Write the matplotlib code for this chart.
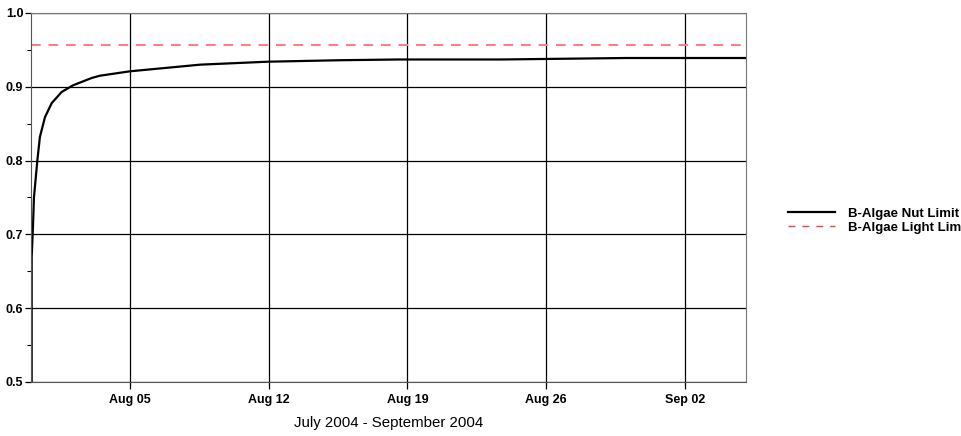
import pandas as pd
import matplotlib.pyplot as plt
import matplotlib.dates as mdates
from matplotlib.lines import Line2D
from matplotlib.ticker import MultipleLocator

plt.rcParams['font.family'] = ['Liberation Sans', 'DejaVu Sans']

# hours since 2004-07-31 00:00 and the nutrient limitation factor
hours = [0.84, 0.85, 2.4, 3.6, 7.7, 10.8, 17, 25.2, 37.2, 50.9, 73.7, 83.5,
         120, 205, 287, 374, 446, 569, 721, 866]
nut_limit = [0.5, 0.669, 0.71, 0.75, 0.80, 0.832, 0.859, 0.878, 0.893, 0.902,
             0.912, 0.915, 0.921, 0.930, 0.934, 0.936, 0.937, 0.937,
             0.939, 0.939]
light_limit = 0.957

start = pd.Timestamp('2004-07-31')
end = start + pd.Timedelta(hours=866)
times = start + pd.to_timedelta(hours, unit='h')
tick_days = pd.to_datetime(['2004-08-05', '2004-08-12', '2004-08-19',
                            '2004-08-26', '2004-09-02'])

fig = plt.figure(figsize=(9.62, 4.36), dpi=100)
ax = fig.add_axes([0.0322, 0.1239, 0.7432, 0.8463])

ax.plot(times, nut_limit, color='black', lw=1.6)
ax.plot([start, end], [light_limit, light_limit], color='#ff7b7b', lw=1.4,
        dashes=(5, 4))

ax.set_xlim(start, end)
ax.set_ylim(0.5, 1.0)
ax.set_xticks(tick_days)
ax.xaxis.set_major_formatter(mdates.DateFormatter('%b %d'))
ax.yaxis.set_major_locator(MultipleLocator(0.1))
ax.yaxis.set_minor_locator(MultipleLocator(0.05))
ax.yaxis.set_major_formatter(plt.FuncFormatter(lambda v, p: f'{v:.1f}'))
ax.grid(True, which='major', color='black', lw=0.9)

for lbl in ax.get_xticklabels() + ax.get_yticklabels():
    lbl.set_fontweight('bold')
    lbl.set_fontsize(9)
ax.tick_params(axis='x', length=5, width=0.9, pad=4)
ax.tick_params(axis='y', which='major', length=4, width=0.9, pad=1.5)
ax.tick_params(axis='y', which='minor', length=3, width=0.8)
for side in ['top', 'right']:
    ax.spines[side].set_color('#777777')
for side in ['left', 'bottom']:
    ax.spines[side].set_color('#555555')

ax.set_xlabel('July 2004 - September 2004', fontsize=10.8, labelpad=7)

handles = [Line2D([], [], color='black', lw=1.6),
           Line2D([], [], color='#ff4040', lw=1, dashes=(5, 5))]
fig.legend(handles, ['B-Algae Nut Limit', 'B-Algae Light Lim'],
           loc='center left', bbox_to_anchor=(0.819, 0.494), frameon=False,
           handlelength=3.55, handletextpad=1.0, labelspacing=0.1,
           borderpad=0, borderaxespad=0,
           prop={'weight': 'bold', 'size': 9.5})

fig.savefig('out.png', dpi=100)
